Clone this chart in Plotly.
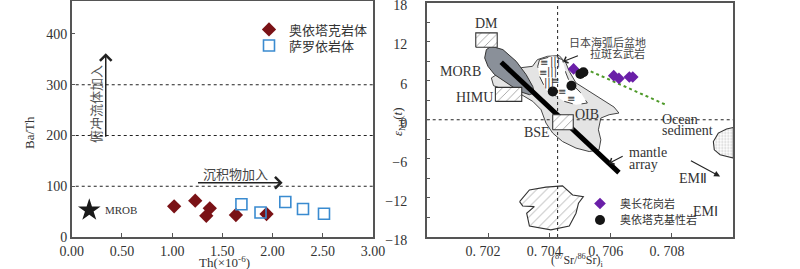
import plotly.graph_objects as go

# ---------------- Left panel data ----------------
th_aoyitake = [1.02, 1.23, 1.375, 1.34, 1.635, 1.94]
bath_aoyitake = [60.5, 71.5, 56.5, 41.7, 43.3, 45.3]
th_saluoyi = [1.69, 1.88, 2.127, 2.303, 2.512]
bath_saluoyi = [64.4, 48.2, 69.0, 55.2, 45.8]
mrob_th, mrob_bath = [0.175], [53]
ref_lines_bath = [100, 200, 300]
left_xticks = [0.0, 0.5, 1.0, 1.5, 2.0, 2.5, 3.0]
left_yticks = [0, 100, 200, 300, 400]

# ---------------- Right panel data ----------------
sr_granite = [0.70479, 0.70610, 0.70627, 0.70661, 0.70672]
end_granite = [7.8, 6.77, 6.35, 6.56, 6.56]
sr_basic = [0.70411, 0.70472, 0.70501, 0.70511]
end_basic = [4.35, 5.23, 7.03, 7.28]

oib_sr = [0.70254, 0.70211, 0.70218, 0.70254, 0.70309, 0.70346, 0.70373, 0.70389, 0.70411,
          0.70443, 0.70487, 0.70530, 0.70562, 0.70568, 0.70560, 0.70568, 0.70595, 0.70627,
          0.70611, 0.70573, 0.70519, 0.70487, 0.70465, 0.70454, 0.70432, 0.70394, 0.70361,
          0.70345, 0.70309]
oib_nd = [7.69, 6.42, 5.23, 4.62, 3.85, 2.82, 1.54, -0.51, -2.05, -3.34, -4.35, -4.88, -4.62,
          -3.08, -1.54, 0.26, 0.77, 1.03, 1.95, 3.08, 4.62, 5.65, 7.43, 8.72, 9.85, 9.74, 9.23,
          8.2, 8.0]
morb_sr = [0.701946, 0.702108, 0.702485, 0.702919, 0.703244, 0.703458, 0.703513, 0.703351,
           0.703026, 0.702595, 0.702215, 0.701998, 0.701891]
morb_nd = [10.77, 11.28, 10.77, 8.97, 6.92, 5.12, 4.11, 3.85, 4.35, 5.65, 6.92, 8.2, 9.49]
japan_sr = [0.70368, 0.70411, 0.70443, 0.70454, 0.70465, 0.70503, 0.70524, 0.70487, 0.70449,
            0.70422, 0.70389, 0.70368, 0.70362]
japan_nd = [9.23, 9.74, 9.23, 7.18, 5.89, 4.11, 2.57, 2.31, 2.82, 3.58, 4.62, 6.66, 8.2]
lower_sr = [0.70303, 0.70335, 0.70389, 0.70443, 0.70476, 0.70511, 0.70495, 0.70487, 0.70465,
            0.70405, 0.70335, 0.70326, 0.70351, 0.70313]
lower_nd = [-12.57, -10.77, -10.35, -10.15, -11.54, -11.8, -12.82, -14.35, -16.3, -16.9,
            -16.3, -14.35, -13.34, -13.23]
sed_sr = [0.7100, 0.70978, 0.70951, 0.70935, 0.70938, 0.70957, 0.7100]
sed_nd = [-1.18, -1.43, -2.05, -3.34, -4.62, -5.38, -5.89]
dm_box = [0.70160, 0.70230, 11.12, 13.34]
himu_box = [0.70224, 0.70310, 2.82, 4.97]
bse_box = [0.70411, 0.70478, -1.54, 0.77]
mantle_sr = [0.70243, 0.70627]
mantle_nd = [8.82, -8.11]
bse_sr_line = 0.70427
sediment_trend_sr = [0.70535, 0.70780]
sediment_trend_nd = [7.43, 2.3]
sediment_trend_head = [0.70789, 2.15]
right_xticks = [0.702, 0.704, 0.706, 0.708]
right_xticktext = ["0. 702", "0. 704", "0. 706", "0. 708"]
right_yticks = [-18, -12, -6, 0, 6, 12, 18]

SERIF = "Liberation Serif"
CJK = "Noto Sans CJK SC"
AX = "#555555"
TXT = "#333333"

fig = go.Figure()

# ---- left panel ----
for yv in ref_lines_bath:
    fig.add_trace(go.Scatter(x=[0.04, 3.0], y=[yv, yv], mode="lines",
                             line=dict(color="#222", width=1.2, dash="dot"),
                             showlegend=False, hoverinfo="skip", xaxis="x", yaxis="y"))
fig.add_trace(go.Scatter(x=th_aoyitake, y=bath_aoyitake, mode="markers", name="奥依塔克岩体",
                         marker=dict(symbol="diamond", size=11, color="#7a1216"),
                         xaxis="x", yaxis="y", legend="legend"))
fig.add_trace(go.Scatter(x=th_saluoyi, y=bath_saluoyi, mode="markers", name="萨罗依岩体",
                         marker=dict(symbol="square-open", size=11, color="#3a8bd0",
                                     line=dict(width=1.6)),
                         xaxis="x", yaxis="y", legend="legend2"))
fig.add_trace(go.Scatter(x=mrob_th, y=mrob_bath, mode="markers", showlegend=False,
                         marker=dict(symbol="star", size=17, color="#1a1a1a"),
                         xaxis="x", yaxis="y"))

# ---- right panel ----
def poly(xs, ys, **kw):
    fig.add_trace(go.Scatter(x=xs + [xs[0]], y=ys + [ys[0]], mode="lines", fill="toself",
                             showlegend=False, hoverinfo="skip", xaxis="x2", yaxis="y2", **kw))

def box(b):
    poly([b[0], b[1], b[1], b[0]], [b[2], b[2], b[3], b[3]],
         line=dict(color="#333", width=1.1), fillcolor="white",
         fillpattern=dict(shape="/", fgcolor="#444", bgcolor="white", size=6, solidity=0.15))

poly(oib_sr, oib_nd, line=dict(color="#444", width=1), fillcolor="#e4e4e4")
poly(morb_sr, morb_nd, line=dict(color="#333", width=1), fillcolor="#8a9099")
poly(japan_sr, japan_nd, line=dict(color="#444", width=1, dash="dash"), fillcolor="white")
poly(lower_sr, lower_nd, line=dict(color="#333", width=1.1), fillcolor="white",
     fillpattern=dict(shape="/", fgcolor="#444", bgcolor="white", size=7, solidity=0.12))
poly(sed_sr, sed_nd, line=dict(color="#333", width=1.1), fillcolor="white",
     fillpattern=dict(shape=".", fgcolor="#999", bgcolor="white", size=3, solidity=0.3))

# reference dotted lines
fig.add_trace(go.Scatter(x=[0.700, 0.710], y=[0, 0], mode="lines",
                         line=dict(color="#222", width=1, dash="dot"), showlegend=False,
                         hoverinfo="skip", xaxis="x2", yaxis="y2"))
fig.add_trace(go.Scatter(x=[bse_sr_line, bse_sr_line], y=[-18, 18], mode="lines",
                         line=dict(color="#222", width=1, dash="dot"), showlegend=False,
                         hoverinfo="skip", xaxis="x2", yaxis="y2"))
# mantle array
fig.add_trace(go.Scatter(x=mantle_sr, y=mantle_nd, mode="lines",
                         line=dict(color="#000", width=5), showlegend=False,
                         hoverinfo="skip", xaxis="x2", yaxis="y2"))
for b in (dm_box, himu_box, bse_box):
    box(b)
# sediment trend (green dotted)
fig.add_trace(go.Scatter(x=sediment_trend_sr, y=sediment_trend_nd, mode="lines",
                         line=dict(color="#4f9a2a", width=2, dash="dot"), showlegend=False,
                         hoverinfo="skip", xaxis="x2", yaxis="y2"))
fig.add_trace(go.Scatter(x=sr_granite, y=end_granite, mode="markers", name="奥长花岗岩",
                         marker=dict(symbol="diamond", size=9, color="#6a1fa8"),
                         xaxis="x2", yaxis="y2", legend="legend3"))
fig.add_trace(go.Scatter(x=sr_basic, y=end_basic, mode="markers", name="奥依塔克基性岩",
                         marker=dict(symbol="circle", size=10, color="#151515"),
                         xaxis="x2", yaxis="y2", legend="legend4"))

ann = []
def txt(x, y, t, ref="2", size=13, family=SERIF, color=TXT, xanchor="center", angle=0):
    ann.append(dict(x=x, y=y, xref="x" + (ref if ref != "1" else ""),
                    yref="y" + (ref if ref != "1" else ""), text=t, showarrow=False,
                    xanchor=xanchor, yanchor="middle", textangle=angle,
                    font=dict(family=family, size=size, color=color)))

def arrow(x0, y0, x1, y1, ref="2", head=4, color="#222", width=1.3, size=1.4):
    r = "" if ref == "1" else ref
    ann.append(dict(x=x1, y=y1, ax=x0, ay=y0, xref="x" + r, yref="y" + r,
                    axref="x" + r, ayref="y" + r, showarrow=True, arrowhead=head,
                    arrowsize=size, arrowwidth=width, arrowcolor=color, text=" ",
                    standoff=0, startstandoff=0))

# left-panel texts and arrows
txt(0.31, 53, "MROB", ref="1", size=11, xanchor="left")
arrow(0.339, 178, 0.339, 362, ref="1", width=1.5, size=1.5)
txt(0.232, 262, "俯冲流体加入", ref="1", size=13, family=CJK, color="#555", angle=-90)
arrow(1.228, 107, 2.10, 107, ref="1", width=1.5, size=1.5)
txt(1.626, 125, "沉积物加入", ref="1", size=13, family=CJK, color="#444")

# right-panel labels
txt(0.70195, 14.8, "DM", size=14)
txt(0.70185, 7.4, "MORB", size=14, xanchor="right")
txt(0.70223, 3.45, "HIMU", size=14, xanchor="right")
txt(0.70408, -1.9, "BSE", size=14, xanchor="right")
txt(0.70523, 0.75, "OIB", size=14)
txt(0.70760, 0.1, "Ocean", size=14, xanchor="left")
txt(0.70760, -1.6, "sediment", size=14, xanchor="left")
txt(0.70652, -5.1, "mantle", size=14, xanchor="left")
txt(0.70652, -6.8, "array", size=14, xanchor="left")
txt(0.70870, -9.0, "EMⅡ", size=14)
txt(0.70909, -14.1, "EMⅠ", size=14)
txt(0.70589, 11.9, "日本海弧后盆地", size=11, family=CJK, color="#444")
txt(0.70621, 10.26, "拉斑玄武岩", size=11, family=CJK, color="#444")
for (sx, sy, s) in [(0.70382, 8.8, "≡"), (0.70418, 8.9, "|||"), (0.70380, 7.2, "≡"),
                    (0.70410, 7.4, "|||"), (0.70420, 6.1, "≡"), (0.70398, 5.6, "|||"),
                    (0.70440, 4.4, "≡"), (0.70470, 3.2, "≡")]:
    txt(sx, sy, s, size=10, family="DejaVu Sans", color="#333")
arrow(0.70503, 10.0, 0.70445, 8.95, size=1.2, width=1.1)
arrow(0.70649, -5.38, 0.70595, -6.66, size=1.2, width=1.1)
arrow(0.70852, -6.05, 0.70957, -8.72, head=2, size=1.1, width=1.1)
arrow(sediment_trend_sr[1], sediment_trend_nd[1], sediment_trend_head[0], sediment_trend_head[1],
      head=4, color="#4f9a2a", size=1.3, width=1.5)

# axis titles (paper positioned)
def ptxt(px, py, t, size=13, angle=0, family=SERIF):
    ann.append(dict(x=px / 800, y=1 - py / 269, xref="paper", yref="paper", text=t,
                    showarrow=False, xanchor="center", yanchor="middle", textangle=angle,
                    font=dict(family=family, size=size, color=TXT)))

ptxt(30, 133, "Ba/Th", angle=-90)
ptxt(224, 262, "Th(×10<sup>-6</sup>)")
ptxt(398, 122, "<i>ε</i><sub>Nd</sub>(<i>t</i>)", angle=-90)
ptxt(577, 260.5, "(<sup>87</sup>Sr/<sup>86</sup>Sr)<sub>i</sub>", size=12)

axis_common = dict(showline=True, mirror=True, linecolor=AX, linewidth=1.5, showgrid=False,
                   zeroline=False, ticks="inside", ticklen=4, tickcolor=AX, automargin=False,
                   tickfont=dict(family=SERIF, size=14, color=TXT))

def leg(px, py, size):
    return dict(x=px / 800, y=1 - py / 269, xanchor="left", yanchor="middle",
                bgcolor="rgba(0,0,0,0)", font=dict(family=CJK, size=size, color=TXT))

fig.update_layout(
    width=800, height=269, margin=dict(l=0, r=0, t=0, b=0, autoexpand=False),
    paper_bgcolor="white", plot_bgcolor="white",
    xaxis=dict(domain=[71.7 / 800, 373 / 800], range=[0, 3], tickvals=left_xticks,
               tickformat=".2f", anchor="y", **axis_common),
    yaxis=dict(domain=[32 / 269, 268 / 269], range=[0, 465], tickvals=left_yticks,
               anchor="x", **axis_common),
    xaxis2=dict(domain=[426.7 / 800, 733.3 / 800], range=[0.700, 0.710],
                tickvals=right_xticks, ticktext=right_xticktext, anchor="y2",
                ticklabelshift=-5, **axis_common),
    yaxis2=dict(domain=[32 / 269, 266.5 / 269], range=[-18, 18], tickvals=right_yticks,
                anchor="x2", ticklabelstandoff=15, ticklabelshift=3,
                ticklabeloverflow="allow",
                minor=dict(dtick=3, ticks="inside", ticklen=4, tickcolor=AX),
                **axis_common),
    legend=leg(249, 29.5, 13),
    legend2=leg(249, 45.5, 13),
    legend3=leg(580, 203.5, 11),
    legend4=leg(580, 220, 11),
    annotations=ann,
)

fig.write_html("out.html", config={"displayModeBar": False},
               post_script="document.body.style.margin='0';")
